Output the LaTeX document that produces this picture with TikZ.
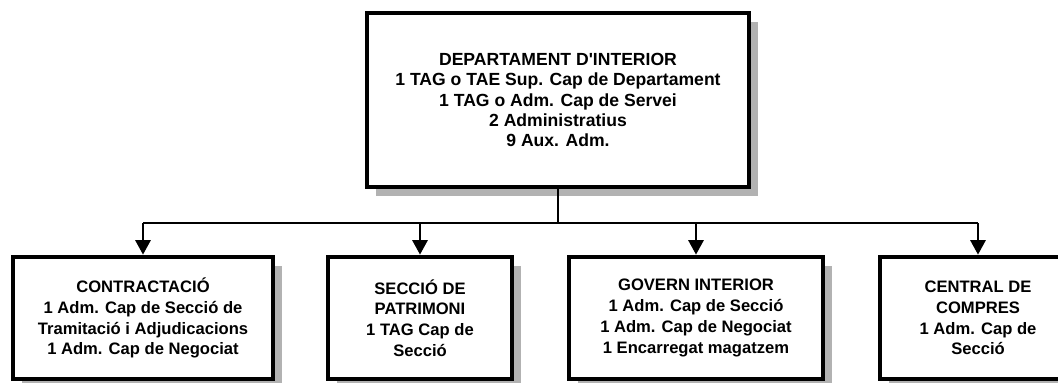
\documentclass[tikz,border=0pt]{standalone}
\usepackage{fontspec}
\setmainfont{Liberation Sans}
\usetikzlibrary{arrows.meta, shadows, positioning}

\tikzset{
  orgbox/.style={draw=black, fill=white, line width=3.4pt, inner sep=0pt,
                 align=center, font=\fontsize{11.8}{14.8}\selectfont\bfseries,
                 drop shadow={shadow xshift=6.4pt, shadow yshift=-6.4pt,
                              fill=black!30, opacity=1}},
  headbox/.style={orgbox, font=\fontsize{12.5}{14.4}\selectfont\bfseries},
  link/.style={draw=black, line width=1.5pt},
  down/.style={link, -{Triangle[length=0.36cm, width=0.38cm]}}
}

\begin{document}
\begin{tikzpicture}[x=0.025cm, y=-0.025cm]
  % canvas, in pixel units of the scan (y grows downwards)
  \clip (0,0) rectangle (1058,382);
  % Department head box
  \node[headbox, minimum width=9.55cm, minimum height=4.35cm] (dept) at (558,100)
    {DEPARTAMENT D\textquotesingle INTERIOR\\1 TAG o TAE Sup. Cap de Departament\\1 TAG o Adm. Cap de Servei\\2 Administratius\\9 Aux. Adm.};
  % The four units below; widths follow the scan
  \node[orgbox, minimum width=6.5cm, minimum height=3.05cm] (contract) at (143,318)
    {CONTRACTACIÓ\\1 Adm. Cap de Secció de\\Tramitació i Adjudicacions\\1 Adm. Cap de Negociat};
  \node[orgbox, minimum width=4.6cm, minimum height=3.05cm] (patrim) at (420,318)
    {SECCIÓ DE\\PATRIMONI\\1 TAG Cap de\\Secció};
  \node[orgbox, minimum width=6.35cm, minimum height=3.05cm] (govern) at (696,318)
    {GOVERN INTERIOR\\1 Adm. Cap de Secció\\1 Adm. Cap de Negociat\\1 Encarregat magatzem};
  \node[orgbox, minimum width=4.9cm, minimum height=3.05cm] (compres) at (978,318)
    {CENTRAL DE\\COMPRES\\1 Adm. Cap de\\Secció};
  % Connectors: one bus line, then an arrow into each unit
  \coordinate (bus) at (558,223);
  \draw[link] (dept.south) -- (bus);
  \draw[link] (contract.north |- bus) -- (compres.north |- bus);
  \foreach \unit in {contract, patrim, govern, compres}
    \draw[down] (\unit.north |- bus) -- (\unit.north);
\end{tikzpicture}
\end{document}
